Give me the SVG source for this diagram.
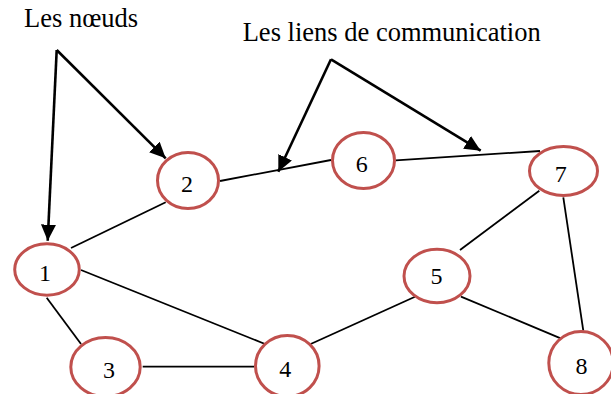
<svg xmlns="http://www.w3.org/2000/svg" width="611" height="394" viewBox="0 0 611 394">
  <style>
    .node ellipse { fill: #ffffff; stroke: #c0504d; stroke-width: 3; }
    .node text { font-family: "Liberation Serif", "Times New Roman", serif; font-size: 24px; fill: #000000; text-anchor: middle; }
    .edge { stroke: #000000; stroke-width: 1.8; fill: none; }
    .pointer { stroke: #000000; stroke-width: 2.6; fill: none; marker-end: url(#head); }
    .caption { font-family: "Liberation Serif", "Times New Roman", serif; font-size: 26.5px; fill: #000000; }
  </style>
  <defs>
    <marker id="head" markerUnits="userSpaceOnUse" markerWidth="17" markerHeight="16" refX="16" refY="7.5" orient="auto">
      <path d="M0,0 L16,7.5 L0,15 z" fill="#000000"/>
    </marker>
  </defs>
  <rect width="611" height="394" fill="#ffffff"/>

  <!-- links between nodes -->
  <g id="connectors">
    <line class="edge" x1="71" y1="248" x2="165.7" y2="202.3"/>
    <line class="edge" x1="220" y1="181" x2="331" y2="160"/>
    <line class="edge" x1="395.7" y1="160.3" x2="540" y2="151"/>
    <line class="edge" x1="539.3" y1="190.7" x2="460" y2="250"/>
    <line class="edge" x1="563.3" y1="197.3" x2="583.3" y2="330.7"/>
    <line class="edge" x1="81" y1="270" x2="265" y2="344"/>
    <line class="edge" x1="46.7" y1="297.7" x2="81" y2="344"/>
    <line class="edge" x1="142.7" y1="366.7" x2="254" y2="366.7"/>
    <line class="edge" x1="310.7" y1="344" x2="415" y2="296.7"/>
    <line class="edge" x1="461" y1="296.7" x2="560.7" y2="338.3"/>
  </g>

  <!-- captions with their pointer arrows -->
  <g id="caption-nodes">
    <text class="caption" x="24" y="27.3">Les nœuds</text>
    <line class="pointer" x1="56.7" y1="50" x2="47.7" y2="240.7"/>
    <line class="pointer" x1="56.7" y1="50" x2="165.7" y2="158.3"/>
  </g>
  <g id="caption-links">
    <text class="caption" x="242.7" y="40.7">Les liens de communication</text>
    <line class="pointer" x1="331" y1="59.3" x2="278.3" y2="171.7"/>
    <line class="pointer" x1="331" y1="59.3" x2="480.7" y2="150.7"/>
  </g>

  <g id="node-1" class="node">
    <ellipse cx="47" cy="269.5" rx="32.3" ry="25.7"/>
    <text x="45" y="281">1</text>
  </g>
  <g id="node-2" class="node">
    <ellipse cx="188" cy="180.5" rx="30.5" ry="28"/>
    <text x="187" y="192.3">2</text>
  </g>
  <g id="node-3" class="node">
    <ellipse cx="105.5" cy="367" rx="34.7" ry="29.5"/>
    <text x="109" y="377.7">3</text>
  </g>
  <g id="node-4" class="node">
    <ellipse cx="287.3" cy="366" rx="31.8" ry="30.5"/>
    <text x="285.3" y="376.7">4</text>
  </g>
  <g id="node-5" class="node">
    <ellipse cx="437" cy="276" rx="33" ry="26.7"/>
    <text x="436.5" y="284.3">5</text>
  </g>
  <g id="node-6" class="node">
    <ellipse cx="363.5" cy="160.5" rx="31" ry="28"/>
    <text x="361.8" y="172.3">6</text>
  </g>
  <g id="node-7" class="node">
    <ellipse cx="563.5" cy="171" rx="34" ry="24.5"/>
    <text x="560.8" y="182.3">7</text>
  </g>
  <g id="node-8" class="node">
    <ellipse cx="581" cy="363" rx="32.2" ry="31.5"/>
    <text x="581.5" y="374">8</text>
  </g>
</svg>
